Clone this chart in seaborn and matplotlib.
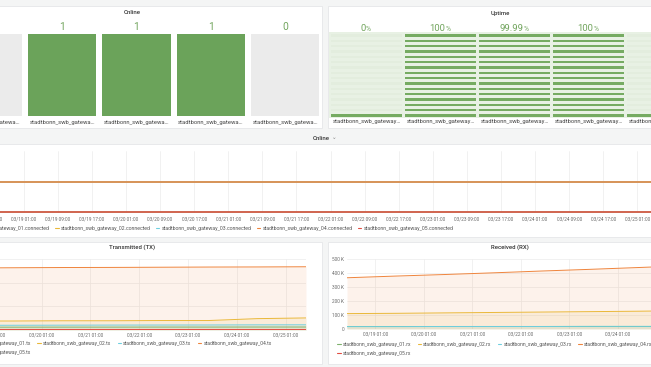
import numpy as np
import pandas as pd
import matplotlib
matplotlib.use("Agg")
import matplotlib.pyplot as plt
import matplotlib.dates as mdates
from matplotlib.colors import ListedColormap
from matplotlib.lines import Line2D
from matplotlib.patches import Rectangle
from matplotlib.ticker import FuncFormatter
import seaborn as sns

W, H = 651, 367

gateways = ['stadtbonn_swb_gateway_01', 'stadtbonn_swb_gateway_02', 'stadtbonn_swb_gateway_03',
            'stadtbonn_swb_gateway_04', 'stadtbonn_swb_gateway_05']
line_colors = ['#7EB26D', '#EAB839', '#6ED0E0', '#EF843C', '#E24D42']

# current values of the stat panels
online_now = [0, 1, 1, 1, 0]
uptime_pct = [0, 100, 99.99, 100, 0]

# one sample per day, 03/18 11:00 .. 03/25 11:00
times = pd.date_range('2021-03-18 11:00', '2021-03-25 11:00', freq='D')

connected = {
    'stadtbonn_swb_gateway_01': [0, 0, 0, 0, 0, 0, 0, 0],
    'stadtbonn_swb_gateway_02': [1, 1, 1, 1, 1, 1, 1, 1],
    'stadtbonn_swb_gateway_03': [1, 1, 1, 1, 1, 1, 1, 1],
    'stadtbonn_swb_gateway_04': [1, 1, 1, 1, 1, 1, 1, 1],
    'stadtbonn_swb_gateway_05': [0, 0, 0, 0, 0, 0, 0, 0],
}

tx_bytes = {
    'stadtbonn_swb_gateway_01': [6000, 6000, 6100, 6100, 6200, 6200, 6300, 6300],
    'stadtbonn_swb_gateway_02': [19000, 19000, 19500, 19500, 20000, 20000, 24000, 25500],
    'stadtbonn_swb_gateway_03': [10000, 10000, 10200, 10400, 10500, 10600, 10900, 11000],
    'stadtbonn_swb_gateway_04': [131000, 131500, 132000, 132200, 132600, 133000, 133200, 133600],
    'stadtbonn_swb_gateway_05': [2000, 2000, 2000, 2000, 2000, 2000, 2000, 2000],
}

rx_bytes = {
    'stadtbonn_swb_gateway_01': [21000, 21000, 21000, 21000, 21000, 21000, 21000, 21000],
    'stadtbonn_swb_gateway_02': [110000, 112000, 115000, 118000, 121000, 124000, 127000, 131000],
    'stadtbonn_swb_gateway_03': [17000, 17000, 18000, 18000, 18000, 19000, 19000, 19000],
    'stadtbonn_swb_gateway_04': [366000, 378000, 389000, 401000, 414000, 426000, 439000, 452000],
    'stadtbonn_swb_gateway_05': [3000, 3000, 3000, 3000, 3000, 3000, 3000, 3000],
}

palette = dict(zip(gateways, line_colors))
TEXT = '#333333'
TICK = '#6a6a6a'
GRID = '#ececec'
GREEN_TXT = '#72a55e'


def long_frame(series):
    rows = []
    for g, vals in series.items():
        rows.append(pd.DataFrame({'time': times, 'value': vals, 'gateway': g}))
    return pd.concat(rows, ignore_index=True)


def px_axes(fig, x0, y0, x1, y1):
    return fig.add_axes([x0 / W, 1 - y1 / H, (x1 - x0) / W, (y1 - y0) / H])


sns.set_theme(style='white')
plt.rcParams['font.family'] = ['Roboto', 'DejaVu Sans']

fig = plt.figure(figsize=(W / 100, H / 100), dpi=100)
fig.patch.set_facecolor('#f4f5f5')

# background layer in pixel coordinates: panels and titles
bg = fig.add_axes([0, 0, 1, 1])
bg.set_xlim(0, W)
bg.set_ylim(H, 0)
bg.axis('off')
for x0, y0, x1, y1 in [(-60, 6, 322, 128), (327.5, 6, 720, 128), (-60, 144, 720, 237),
                       (-60, 241.5, 322, 363.5), (327.5, 241.5, 720, 363.5)]:
    bg.add_patch(Rectangle((x0, y0), x1 - x0, y1 - y0, fc='white', ec='#e2e3e5', lw=0.5))

title_kw = dict(ha='center', va='center', fontsize=4.3, fontweight='medium', color=TEXT)
bg.text(132, 13, 'Online', **title_kw)
bg.text(500, 13, 'Uptime', **title_kw)
bg.text(132, 247, 'Transmitted (TX)', **title_kw)
bg.text(510, 247, 'Received (RX)', **title_kw)
row_title = bg.text(321, 138, 'Online', **title_kw)
bg.annotate('⌄', xy=(1, 0.5), xycoords=row_title, xytext=(1.5, 0.6), textcoords='offset points',
            ha='left', va='center', fontsize=4.0, color='#888888', family=['DejaVu Sans'])

# ---- Online stat tiles
ax = px_axes(fig, -49.5, 31, 322.2, 119)
sns.heatmap(np.array([online_now]), ax=ax, cmap=ListedColormap(['#ebebeb', '#6ba35a']),
            vmin=0, vmax=1, cbar=False, linewidths=3.2, linecolor='white',
            xticklabels=[g[:20] + '…' for g in gateways], yticklabels=False)
ax.tick_params(axis='x', length=0, pad=0.6, labelsize=4.2, labelcolor='#444', rotation=0)
for i, v in enumerate(online_now):
    ax.annotate(str(v), xy=(i + 0.5, 1), xycoords=ax.get_xaxis_transform(),
                xytext=(0, 0.5), textcoords='offset points', ha='center', va='baseline',
                fontsize=7.4, color=GREEN_TXT)

# ---- Uptime LCD gauges
n_seg = 16
lit = [max(1, int(round(v / 100 * n_seg))) for v in uptime_pct]
lcd = np.array([[1 if (n_seg - 1 - r) < lit[c] else 0 for c in range(len(gateways))]
                for r in range(n_seg)])
ax = px_axes(fig, 329.4, 32.4, 699.4, 117.6)
sns.heatmap(lcd, ax=ax, cmap=ListedColormap(['#e3edde', '#76ab62']), vmin=0, vmax=1,
            cbar=False, linewidths=0.8, linecolor='#e8f1e4',
            xticklabels=[g[:21] + '…' for g in gateways], yticklabels=False)
ax.tick_params(axis='x', length=0, pad=1.0, labelsize=4.2, labelcolor='#444', rotation=0)
for i, v in enumerate(uptime_pct):
    num = ax.annotate(f'{v:g}', xy=(i + 0.5, 1), xycoords=ax.get_xaxis_transform(),
                      xytext=(-2.2, 0.9), textcoords='offset points', ha='center', va='baseline',
                      fontsize=6.8, color=GREEN_TXT)
    ax.annotate('%', xy=(1, 0), xycoords=num, xytext=(0, 0), textcoords='offset points',
                ha='left', va='bottom', fontsize=4.8, color=GREEN_TXT)


def style_ts(ax, locator, ygrid):
    ax.set_facecolor('none')
    for s in ax.spines.values():
        s.set_visible(False)
    ax.xaxis.set_major_locator(locator)
    ax.xaxis.set_major_formatter(mdates.DateFormatter('%m/%d %H:%M'))
    ax.set_xlim(times[0], times[-1])
    ax.set_xlabel('')
    ax.set_ylabel('')
    ax.grid(True, axis='x', color=GRID, lw=0.5)
    if ygrid:
        ax.grid(True, axis='y', color=GRID, lw=0.5)
    ax.tick_params(length=0, labelsize=3.4, labelcolor=TICK, pad=1.8)


def draw_lines(ax, series, lw, fill):
    frame = long_frame(series)
    sns.lineplot(data=frame, x='time', y='value', hue='gateway', palette=palette,
                 linewidth=lw, legend=False, ax=ax)
    if fill:
        for g in gateways:
            sub = frame[frame['gateway'] == g]
            ax.fill_between(sub['time'], sub['value'], color=palette[g], alpha=0.1, lw=0)


def add_legend(suffix, ncol, x, y, colsp, fs):
    handles = [Line2D([], [], color=c, lw=0.8) for c in line_colors]
    labels = [g + suffix for g in gateways]
    # legend fills column by column; reorder so rows read 01..04 then 05
    order = list(range(len(gateways)))
    if ncol < len(gateways):
        order = [0, 4, 1, 2, 3]
    fig.legend([handles[i] for i in order], [labels[i] for i in order], ncol=ncol,
               loc='upper left', bbox_to_anchor=(x / W, 1 - y / H), frameon=False, fontsize=fs,
               handlelength=0.7, handletextpad=0.4, columnspacing=colsp, labelspacing=0.75,
               borderpad=0, borderaxespad=0, labelcolor='#555')


kfmt = FuncFormatter(lambda v, p: f'{int(v / 1000)} K' if v else '0')

# ---- Online time series
ax = px_axes(fig, -36, 151, 680, 213)
draw_lines(ax, connected, 1.1, False)
style_ts(ax, mdates.HourLocator(byhour=[1, 9, 17]), False)
ax.set_ylim(-0.033, 2.033)
ax.set_yticks([])
ax.tick_params(axis='x', pad=2.2)
add_legend('.connected', 5, -46, 226, 1.05, 3.7)

# ---- Transmitted
ax = px_axes(fig, -35.6, 259, 306, 330)
draw_lines(ax, tx_bytes, 0.7, True)
style_ts(ax, mdates.HourLocator(byhour=[1]), True)
ax.set_ylim(0, 150000)
ax.set_yticks([0, 50000, 100000, 150000])
ax.yaxis.set_major_formatter(kfmt)
add_legend('.tx', 4, -43, 341, 1.3, 3.6)

# ---- Received
ax = px_axes(fig, 347, 259, 686.5, 329)
draw_lines(ax, rx_bytes, 0.7, True)
style_ts(ax, mdates.HourLocator(byhour=[1]), True)
ax.set_ylim(0, 500000)
ax.set_yticks([0, 100000, 200000, 300000, 400000, 500000])
ax.yaxis.set_major_formatter(kfmt)
add_legend('.rx', 4, 337, 342, 1.3, 3.6)

fig.savefig('out.png', dpi=100)
